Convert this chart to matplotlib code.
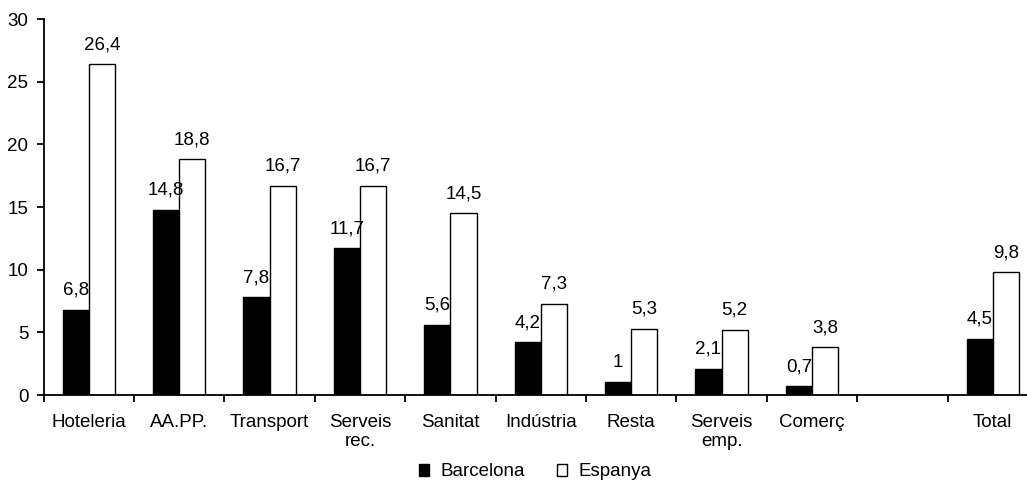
import numpy as np
import matplotlib
matplotlib.use('Agg')
import matplotlib.pyplot as plt
from matplotlib.ticker import FixedLocator

categories = ['Hoteleria', 'AA.PP.', 'Transport', 'Serveis\nrec.', 'Sanitat',
              'Indústria', 'Resta', 'Serveis\nemp.', 'Comerç', '', 'Total']
barcelona = [6.8, 14.8, 7.8, 11.7, 5.6, 4.2, 1.0, 2.1, 0.7, np.nan, 4.5]
espanya = [26.4, 18.8, 16.7, 16.7, 14.5, 7.3, 5.3, 5.2, 3.8, np.nan, 9.8]
series_names = ['Barcelona', 'Espanya']

plt.rcParams['font.family'] = ['Liberation Sans', 'DejaVu Sans']
plt.rcParams['font.size'] = 13.5


def fmt(v):
  if np.isnan(v):
    return ''
  return f'{v:g}'.replace('.', ',')


fig = plt.figure(figsize=(10.27, 4.83), dpi=100)
ax = fig.add_axes([43.6 / 1027, 1 - 395 / 483, 994.4 / 1027, 376 / 483])

x = np.arange(len(categories))
w = 0.29
b1 = ax.bar(x - w / 2, barcelona, w, color='black', edgecolor='black', linewidth=1, label=series_names[0])
b2 = ax.bar(x + w / 2, espanya, w, color='white', edgecolor='black', linewidth=1, label=series_names[1])
ax.bar_label(b1, labels=[fmt(v) for v in barcelona], padding=8)
ax.bar_label(b2, labels=[fmt(v) for v in espanya], padding=8)

ax.set_xlim(-0.5, len(categories) - 0.5)
ax.set_ylim(0, 30)
ax.set_yticks(range(0, 31, 5))
ax.set_xticks(x)
ax.set_xticklabels(categories, linespacing=1.15)
ax.xaxis.set_minor_locator(FixedLocator(np.arange(len(categories) + 1) - 0.5))
ax.tick_params(axis='x', which='major', length=0, pad=14)
ax.tick_params(axis='x', which='minor', length=5, width=1.3, direction='out')
ax.tick_params(axis='y', length=5, width=1.3, direction='out', pad=6)

for s in ['top', 'right']:
  ax.spines[s].set_visible(False)
for s in ['left', 'bottom']:
  ax.spines[s].set_linewidth(1.3)

fig.legend(handles=[b1, b2], loc='center', bbox_to_anchor=(535 / 1027, 1 - 472 / 483),
           ncol=2, frameon=False, handlelength=0.55, handleheight=0.55,
           handletextpad=0.6, columnspacing=1.7, borderaxespad=0)

fig.savefig('out.png', dpi=100)
